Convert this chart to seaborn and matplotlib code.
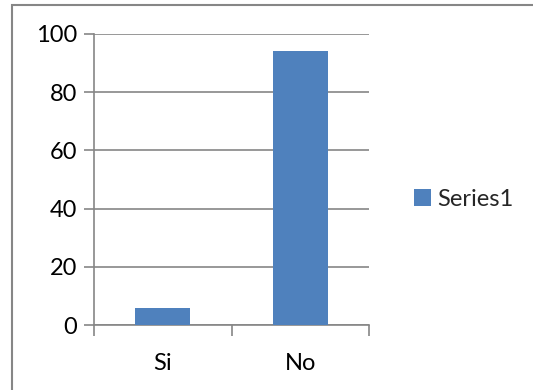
import matplotlib
matplotlib.use("Agg")
import matplotlib.pyplot as plt
import pandas as pd
import seaborn as sns
from matplotlib.patches import Patch, Rectangle

categories = ["Si", "No"]
values = [6, 94]
series_name = "Series1"
y_ticks = [0, 20, 40, 60, 80, 100]

sns.set_theme(style="white")
plt.rcParams["font.family"] = ["Lato", "DejaVu Sans"]

bar_color = "#4F81BD"
line_color = "#868686"
font_size = 17

df = pd.DataFrame({"category": categories, "value": values})

fig = plt.figure(figsize=(5.33, 3.9), dpi=100)
ax = fig.add_axes([94 / 533, 1 - 325 / 390, (369 - 94) / 533, (325 - 34) / 390])

sns.barplot(data=df, x="category", y="value", color=bar_color, width=0.4,
            saturation=1, linewidth=0, ax=ax, zorder=3)

ax.set_xlim(-0.5, len(categories) - 0.5)
ax.set_ylim(0, 100)
ax.set_yticks(y_ticks)
ax.set_xlabel("")
ax.set_ylabel("")
ax.yaxis.grid(True, color=line_color, linewidth=1.2, zorder=0)
ax.xaxis.grid(False)

for side in ["top", "right"]:
    ax.spines[side].set_visible(False)
for side in ["left", "bottom"]:
    ax.spines[side].set_color(line_color)
    ax.spines[side].set_linewidth(1.2)

ax.tick_params(axis="y", which="major", length=7, width=1.2, color=line_color,
               direction="out", left=True, labelsize=font_size, pad=5, labelcolor="black")
ax.tick_params(axis="x", which="major", length=0, labelsize=font_size, pad=20, labelcolor="black")
ax.set_xticks(range(len(categories)))
ax.set_xticklabels(categories)
ax.set_xticks([i - 0.5 for i in range(len(categories) + 1)], minor=True)
ax.tick_params(axis="x", which="minor", length=8, width=1.2, color=line_color,
               direction="out", bottom=True)

handles = [Patch(facecolor=bar_color, edgecolor="none", label=series_name)]
fig.legend(handles=handles, loc="center left", bbox_to_anchor=(405 / 533, 1 - 199 / 390),
           frameon=False, fontsize=font_size, handlelength=0.7, handleheight=0.7,
           handletextpad=0.25, borderaxespad=0)

fig.patches.append(Rectangle((12 / 533, -0.1), 1.2, 1 - 5 / 390 + 0.1,
                             transform=fig.transFigure, fill=False,
                             edgecolor=line_color, linewidth=1.5))

fig.savefig("out.png", dpi=100)
